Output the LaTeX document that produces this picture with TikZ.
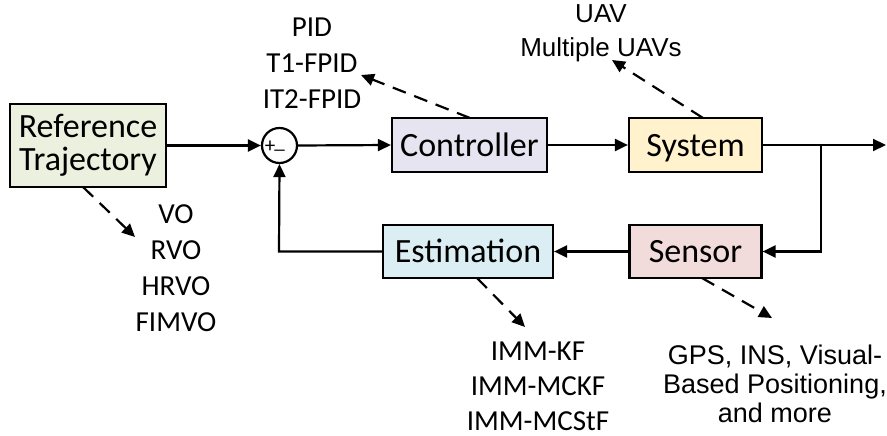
\documentclass[tikz,border=0pt]{standalone}
\usepackage{fontspec}
\setmainfont{Carlito}
\newfontfamily\arialf{Liberation Sans}
\usetikzlibrary{arrows.meta}
\definecolor{refc}{HTML}{EBF1DE}
\definecolor{ctlc}{HTML}{E6E4F0}
\definecolor{sysc}{HTML}{FFF2CC}
\definecolor{senc}{HTML}{F2DCDB}
\definecolor{estc}{HTML}{DBEEF3}
\tikzset{
  blk/.style={draw, line width=2.2pt, inner sep=0pt, text height=25pt, text depth=3pt, font=\fontsize{34}{34}\selectfont},
  lbl/.style={align=center, inner sep=0pt, font=\fontsize{29}{36}\selectfont},
  albl/.style={align=center, inner sep=0pt, font=\arialf\fontsize{27}{29}\selectfont},
  flow/.style={line width=2.2pt, -{Triangle[length=13pt,width=12pt]}},
  dflow/.style={line width=2.2pt, dash pattern=on 14pt off 9pt, -{Triangle[length=13pt,width=12pt]}}
}
\begin{document}
\begin{tikzpicture}[x=1pt,y=-1pt]
\useasboundingbox (0,0) rectangle (887,436);
% blocks
\node[draw, line width=2.2pt, inner sep=0pt, fill=refc, minimum width=156pt, minimum height=83pt, align=center, font=\fontsize{34}{33}\selectfont] (ref) at (88,145.5) {Reference\\Trajectory};
\node[draw, circle, line width=2.2pt, minimum size=35pt, inner sep=0pt] (sum) at (279.5,145.5) {};
\node[inner sep=0pt, font=\fontsize{21}{21}\selectfont] (plus) at (270,147) {+};
\node[inner sep=0pt, font=\fontsize{21}{21}\selectfont] (minus) at (279.5,150) {\_};
\node[blk, fill=ctlc, minimum width=155pt, minimum height=54pt] (ctl) at (469.5,145) {Controller};
\node[blk, fill=sysc, minimum width=133pt, minimum height=54pt] (sys) at (695.5,145) {System};
\node[blk, fill=senc, minimum width=132pt, minimum height=53pt] (sen) at (695.5,251.5) {Sensor};
\node[blk, fill=estc, minimum width=170pt, minimum height=53pt] (est) at (468,251.5) {Estimation};
% texts
\node[lbl] (reft) at (176,268) {VO\\RVO\\HRVO\\FIMVO};
\node[lbl] (ctlt) at (312,63) {PID\\T1-FPID\\IT2-FPID};
\node[albl, font=\arialf\fontsize{26}{34}\selectfont] (syst) at (601,33) {UAV\\Multiple UAVs};
\node[lbl, font=\fontsize{29}{35}\selectfont] (estt) at (538,386) {IMM-KF\\IMM-MCKF\\IMM-MCStF};
\node[albl] (sent) at (775,384) {GPS, INS, Visual-\\Based Positioning,\\and more};
% coordinates
\coordinate (outE) at (886,145);
\coordinate (br) at (821,145);
\coordinate (fb) at (279,251.5);
\coordinate (d1s) at (83,187);
\coordinate (d1e) at (135,237);
\coordinate (d2s) at (470,118);
\coordinate (d2e) at (361,75);
\coordinate (d3s) at (703,118);
\coordinate (d3e) at (612,60);
\coordinate (d4s) at (477,278);
\coordinate (d4e) at (525,327);
\coordinate (d5s) at (702,278);
\coordinate (d5e) at (772,318);
% connectors
\draw[flow] (ref.east) -- (sum.west);
\draw[flow] (sum.east) -- (ctl.west);
\draw[flow] (ctl.east) -- (sys.west);
\draw[flow] (sys.east) -- (outE);
\draw[flow] (br) |- (sen.east);
\draw[flow] (sen.west) -- (est.west -| est.east);
\draw[flow] (est.west) -- (fb) -- (sum.south);
% dashed
\draw[dflow] (d1s) -- (d1e);
\draw[dflow] (d2s) -- (d2e);
\draw[dflow] (d3s) -- (d3e);
\draw[dflow] (d4s) -- (d4e);
\draw[dflow] (d5s) -- (d5e);
\end{tikzpicture}
\end{document}
